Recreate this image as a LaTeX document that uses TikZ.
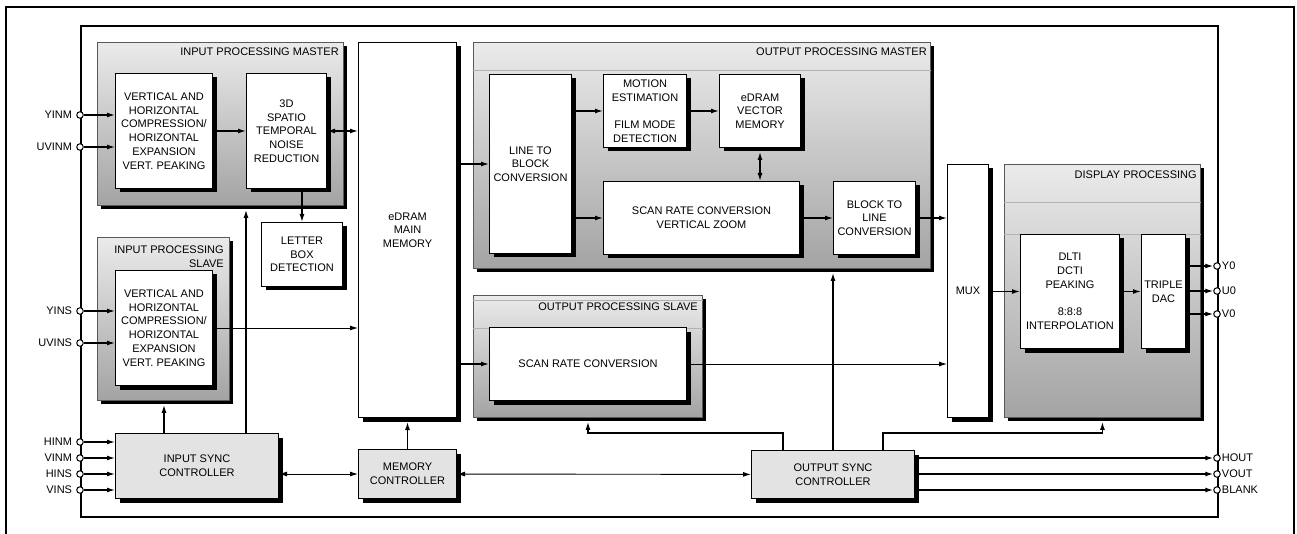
\documentclass[tikz,border=0pt]{standalone}
\usepackage{fontspec}
\setmainfont{Liberation Sans}
\usepackage{tikz}
\usetikzlibrary{arrows.meta,positioning,shadows}

\tikzset{
  blk/.style={draw, fill=white, line width=1pt, inner sep=0pt, align=center, anchor=north west,
    drop shadow={shadow xshift=4pt, shadow yshift=-4pt, opacity=1, fill=black}},
  ctl/.style={blk, fill=black!11},
  grp/.style={draw=black!65, line width=.9pt, inner sep=0pt, anchor=north west,
    top color=black!8, bottom color=black!36,
    drop shadow={shadow xshift=4pt, shadow yshift=-4pt, opacity=1, fill=black}},
  ttl/.style={inner sep=0pt, anchor=base east, align=right},
  sepln/.style={draw=black!30, line width=.6pt},
  port/.style={circle, draw, fill=white, line width=1pt, minimum size=6.5pt, inner sep=0pt},
  plbl/.style={inner sep=1pt},
  conn/.style={line width=1.3pt},
  thin conn/.style={line width=.9pt},
}

\begin{document}
\begin{tikzpicture}[x=1pt, y=-1pt, font=\fontsize{11}{13.7}\selectfont,
    >={Latex[length=8pt,width=5pt]}]
  \useasboundingbox (0,0) rectangle (1297,534);

  % frames
  \draw[line width=1.6pt] (6,540) |- (1294,7) -- (1294,540);
  \node (chip)[draw, line width=2.2pt, anchor=north west, inner sep=0pt,
    minimum width=1137, minimum height=491] at (80,25) {};

  % processing groups
  \node (ipm)[grp, minimum width=246, minimum height=163] at (97,42) {};
  \node (ips)[grp, minimum width=132, minimum height=163] at (97,237) {};
  \node (opm)[grp, minimum width=457, minimum height=226] at (473,42) {};
  \node (ops)[grp, minimum width=229, minimum height=122] at (473,295) {};
  \node (dsp)[grp, minimum width=196, minimum height=253] at (1004,164) {};

  \node (ipmt)[ttl] at ([xshift=-5pt,yshift=-14pt]ipm.north east) {INPUT PROCESSING MASTER};
  \node (ipst)[ttl, anchor=north east] at ([xshift=-6pt,yshift=-9pt]ips.north east) {INPUT PROCESSING\\SLAVE};
  \node (opmt)[ttl] at ([xshift=-4pt,yshift=-14pt]opm.north east) {OUTPUT PROCESSING MASTER};
  \node (opst)[ttl] at ([xshift=-5pt,yshift=-15pt]ops.north east) {OUTPUT PROCESSING SLAVE};
  \node (dspt)[ttl] at ([xshift=-4pt,yshift=-15pt]dsp.north east) {DISPLAY PROCESSING};

  \draw[sepln] ([yshift=-28pt]opm.north west) -- ([yshift=-28pt]opm.north east);
  \draw[sepln] ([yshift=-5pt]ops.north west) -- ([yshift=-5pt]ops.north east);
  \draw[sepln] ([yshift=-33pt]ops.north west) -- ([yshift=-33pt]ops.north east);
  \draw[sepln] ([yshift=-38pt]dsp.north west) -- ([yshift=-38pt]dsp.north east);
  \draw[sepln] ([yshift=-70pt]dsp.north west) -- ([yshift=-70pt]dsp.north east);

  % blocks
  \node (vhm)[blk, minimum width=97, minimum height=115] at (115,73)
    {VERTICAL AND\\HORIZONTAL\\COMPRESSION/\\HORIZONTAL\\EXPANSION\\VERT. PEAKING};
  \node (nr)[blk, right=33pt of vhm, minimum width=80, minimum height=115]
    {3D\\SPATIO\\TEMPORAL\\NOISE\\REDUCTION};
  \node (lbd)[blk, minimum width=81, minimum height=64] at (261,222) {LETTER\\BOX\\DETECTION};
  \node (vhs)[blk, minimum width=97, minimum height=115] at (115,270)
    {VERTICAL AND\\HORIZONTAL\\COMPRESSION/\\HORIZONTAL\\EXPANSION\\VERT. PEAKING};
  \node (edram)[blk, minimum width=98, minimum height=375] at (358,42) {eDRAM\\MAIN\\MEMORY};
  \node (isc)[ctl, minimum width=163, minimum height=65] at (115,433) {INPUT SYNC\\CONTROLLER};
  \node (memc)[ctl, minimum width=98, minimum height=49] at (358,449) {MEMORY\\CONTROLLER};

  \node (ltb)[blk, minimum width=82, minimum height=179] at (489,74) {LINE TO\\BLOCK\\CONVERSION};
  \node (me)[blk, minimum width=83, minimum height=73] at (603,74)
    {MOTION\\ESTIMATION\\[13.7pt]FILM MODE\\DETECTION};
  \node (vmem)[blk, right=32pt of me, minimum width=81, minimum height=73] {eDRAM\\VECTOR\\MEMORY};
  \node (src)[blk, below right=33pt and 0pt of me.south west, minimum width=196, minimum height=73]
    {SCAN RATE CONVERSION\\VERTICAL ZOOM};
  \node (btl)[blk, right=33pt of src, minimum width=82, minimum height=73] {BLOCK TO\\LINE\\CONVERSION};
  \node (srs)[blk, minimum width=197, minimum height=73] at (489,327) {SCAN RATE CONVERSION};
  \node (mux)[blk, minimum width=41, minimum height=253] at (947,164) {MUX};
  \node (dlti)[blk, minimum width=99, minimum height=114] at (1020,234)
    {DLTI\\DCTI\\PEAKING\\[13.7pt]8:8:8\\INTERPOLATION};
  \node (dac)[blk, right=21pt of dlti, minimum width=44, minimum height=114] {TRIPLE\\DAC};
  \node (osc)[ctl, minimum width=163, minimum height=48] at (751,450) {OUTPUT SYNC\\CONTROLLER};

  % pins
  \node (yinm)[port] at (80,115) {};
  \node (uvinm)[port] at (80,147) {};
  \node (yins)[port] at (80,311) {};
  \node (uvins)[port] at (80,343) {};
  \node (hinm)[port] at (80,442) {};
  \node (vinm)[port] at (80,458) {};
  \node (hins)[port] at (80,474) {};
  \node (vins)[port] at (80,490) {};
  \node (y0)[port] at (1217,266) {};
  \node (u0)[port] at (1217,291) {};
  \node (v0)[port] at (1217,314) {};
  \node (hout)[port] at (1217,458) {};
  \node (vout)[port] at (1217,474) {};
  \node (blank)[port] at (1217,490) {};

  \node (yinml)[plbl, left=3pt of yinm] {YINM};
  \node (uvinml)[plbl, left=3pt of uvinm] {UVINM};
  \node (yinsl)[plbl, left=3pt of yins] {YINS};
  \node (uvinsl)[plbl, left=3pt of uvins] {UVINS};
  \node (hinml)[plbl, left=3pt of hinm] {HINM};
  \node (vinml)[plbl, left=3pt of vinm] {VINM};
  \node (hinsl)[plbl, left=3pt of hins] {HINS};
  \node (vinsl)[plbl, left=3pt of vins] {VINS};
  \node (y0l)[plbl, right=0pt of y0] {Y0};
  \node (u0l)[plbl, right=0pt of u0] {U0};
  \node (v0l)[plbl, right=0pt of v0] {V0};
  \node (houtl)[plbl, right=0pt of hout] {HOUT};
  \node (voutl)[plbl, right=0pt of vout] {VOUT};
  \node (blankl)[plbl, right=0pt of blank] {BLANK};

  % input side
  \draw[conn,->] (yinm) -- (yinm -| vhm.west);
  \draw[conn,->] (uvinm) -- (uvinm -| vhm.west);
  \draw[conn,->] (yins) -- (yins -| vhs.west);
  \draw[conn,->] (uvins) -- (uvins -| vhs.west);
  \draw[conn,->] (hinm) -- (hinm -| isc.west);
  \draw[conn,->] (vinm) -- (vinm -| isc.west);
  \draw[conn,->] (hins) -- (hins -| isc.west);
  \draw[conn,->] (vins) -- (vins -| isc.west);
  \draw[conn,->] (vhm) -- (nr);
  \draw[conn,<->] (nr.east) -- (nr.east -| edram.west);
  \draw[conn,->] (lbd.north |- nr.south) -- (lbd.north);
  \draw[thin conn,->] (vhs.east) -- (vhs.east -| edram.west);
  \draw[conn,->,shorten >=4pt] (vhs |- isc.north) -- (vhs |- ips.south);
  \draw[conn,->,shorten >=4pt] (nr.west |- isc.north) -- (nr.west |- ipm.south);
  \draw[thin conn,<->] (isc.east |- memc) -- (memc.west);
  \draw[conn,->,shorten >=4pt] (memc.north) -- (memc.north |- edram.south);

  % output side
  \draw[conn,->] (edram.east |- ltb) -- (ltb.west);
  \draw[conn,->] (ltb.east |- me) -- (me.west);
  \draw[conn,->] (ltb.east |- src) -- (src.west);
  \draw[conn,->] (me) -- (vmem);
  \draw[conn,<->,shorten <=4pt] (vmem.south) -- (vmem.south |- src.north);
  \draw[conn,->] (src) -- (btl);
  \draw[conn,->] (btl.east) -- (btl.east -| mux.west);
  \draw[conn,->] (edram.east |- srs) -- (srs.west);
  \draw[thin conn,->] (srs.east) -- (srs.east -| mux.west);
  \draw[conn,->] (mux.east |- dlti) -- (dlti.west);
  \draw[conn,->] (dlti) -- (dac);
  \draw[conn,->] (dac.east |- y0) -- (y0);
  \draw[conn,->] (dac.east |- u0) -- (u0);
  \draw[conn,->] (dac.east |- v0) -- (v0);
  \draw[thin conn,<->] (memc) -- (osc);
  \draw[conn,->,shorten >=4pt] ([xshift=32pt]osc.north west) -- ++(0,-17) -| (ops.south);
  \draw[conn,->,shorten >=4pt] (osc.north) -- (osc.north |- opm.south);
  \draw[conn,->,shorten >=4pt] ([xshift=-32pt]osc.north east) -- ++(0,-17) -| (dsp.south);
  \draw[conn,->] (osc.east |- hout) -- (hout);
  \draw[conn,->] (osc.east |- vout) -- (vout);
  \draw[conn,->] (osc.east |- blank) -- (blank);
\end{tikzpicture}
\end{document}
